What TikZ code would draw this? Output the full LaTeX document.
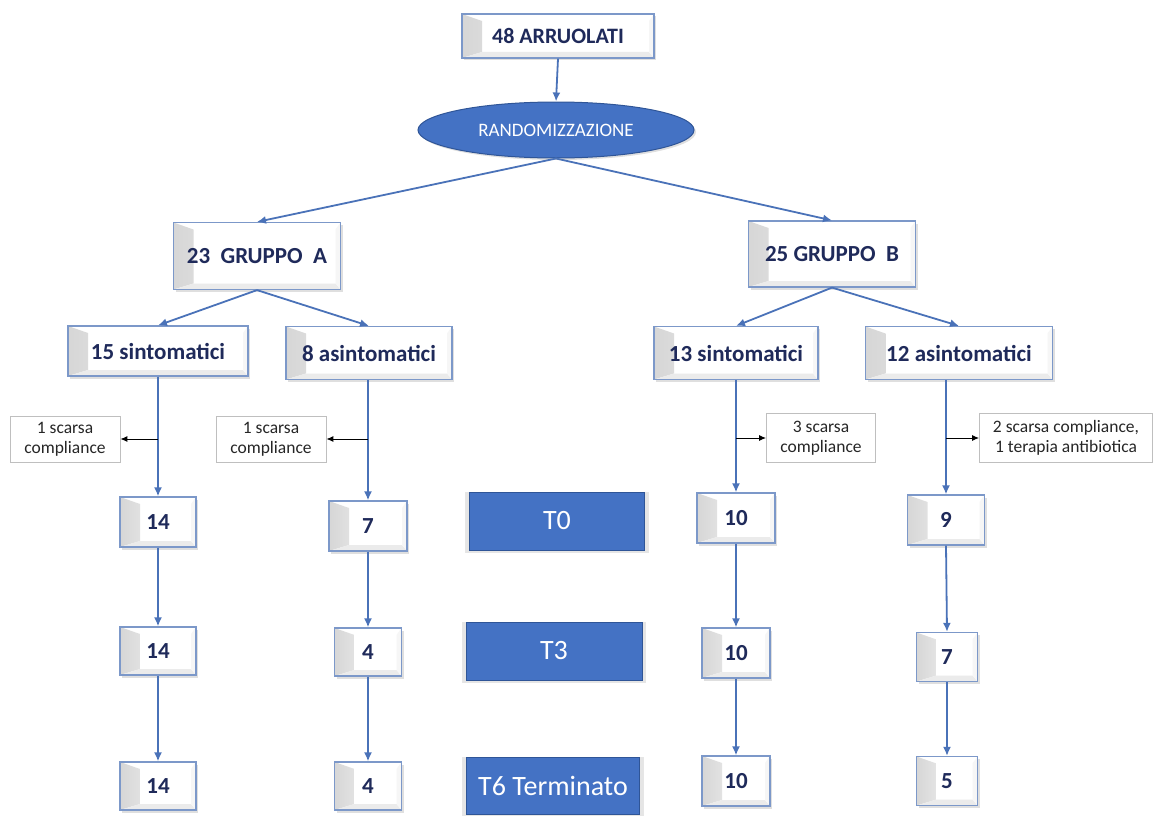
\documentclass[tikz,border=0pt]{standalone}
\usepackage{fontspec}
\setmainfont{Carlito}
\usetikzlibrary{shapes.geometric,arrows.meta,shadows}
\definecolor{navy}{HTML}{1F2A5A}
\definecolor{tblue}{HTML}{4472C4}
\definecolor{tbord}{HTML}{2F5597}
\definecolor{bxbord}{HTML}{7C98C9}
\definecolor{lnblue}{HTML}{4A72B8}
\tikzset{
  bevel/.style={path picture={
    \path[left color=gray!32,right color=white]
      (path picture bounding box.north west)
      -- ([xshift=20pt,yshift=-7pt]path picture bounding box.north west)
      -- ([xshift=20pt,yshift=6pt]path picture bounding box.south west)
      -- (path picture bounding box.south west) -- cycle;
    \fill[gray!16]
      (path picture bounding box.south west)
      -- ([xshift=20pt,yshift=6pt]path picture bounding box.south west)
      -- ([xshift=-5pt,yshift=6pt]path picture bounding box.south east)
      -- (path picture bounding box.south east) -- cycle;
    \fill[gray!7]
      (path picture bounding box.south east)
      -- ([xshift=-5pt,yshift=6pt]path picture bounding box.south east)
      -- ([xshift=-5pt,yshift=-7pt]path picture bounding box.north east)
      -- (path picture bounding box.north east) -- cycle;
  }},
  bx/.style={draw=bxbord,line width=1.2pt,fill=white,bevel,inner sep=0pt,
    text=navy,font=\bfseries\fontsize{23}{26}\selectfont,
    drop shadow={shadow xshift=2pt,shadow yshift=-2.5pt,opacity=0.25}},
  cbox/.style={draw=gray!50,line width=0.8pt,fill=white,inner sep=0pt,
    align=center,text=black!85,font=\fontsize{17.5}{20}\selectfont},
  tbox/.style={draw=tbord,line width=0.8pt,fill=tblue,inner sep=0pt,text=white,
    font=\fontsize{28}{32}\selectfont,
    preaction={draw=white,line width=7pt},
    drop shadow={shadow xshift=0pt,shadow yshift=-1pt,shadow scale=1.05,opacity=0.2}},
  conn/.style={draw=lnblue,line width=1.8pt,-{Latex[length=9pt,width=8pt]}},
  side/.style={draw=black,line width=1pt,-{Latex[length=7pt,width=6pt]}},
}
\begin{document}
\begin{tikzpicture}[x=1pt,y=-1pt]
\useasboundingbox (0,0) rectangle (1156,816);
% top
\node[bx,minimum width=192pt,minimum height=44pt,font=\bfseries\fontsize{22}{26}\selectfont] (arr) at (558,36) {48 ARRUOLATI};
\node[ellipse,draw=tbord,line width=1pt,fill=tblue,minimum width=276pt,minimum height=56pt,inner sep=0pt,text=white,font=\fontsize{19}{22}\selectfont,
  drop shadow={shadow xshift=2pt,shadow yshift=-2pt,opacity=0.25}] (rand) at (556,130) {RANDOMIZZAZIONE};
% groups
\node[bx,minimum width=167pt,minimum height=67pt] (ga) at (257,256) {23\ \ GRUPPO\ \ A};
\node[bx,minimum width=167pt,minimum height=66pt] (gb) at (832,254) {25 GRUPPO\ \ B};
% subgroups
\node[bx,minimum width=180pt,minimum height=50pt] (s15) at (158,351) {15 sintomatici};
\node[bx,minimum width=166pt,minimum height=53pt] (a8) at (369,353) {8 asintomatici};
\node[bx,minimum width=164pt,minimum height=53pt] (s13) at (736,353) {13 sintomatici};
\node[bx,minimum width=187pt,minimum height=53pt] (a12) at (959,353) {12 asintomatici};
% compliance boxes
\node[cbox,minimum width=110pt,minimum height=46pt] (c1) at (65,439) {1 scarsa\\compliance};
\node[cbox,minimum width=110pt,minimum height=46pt] (c2) at (271,439) {1 scarsa\\compliance};
\node[cbox,minimum width=109pt,minimum height=49pt] (c3) at (821,438) {3 scarsa\\compliance};
\node[cbox,minimum width=173pt,minimum height=49pt] (c4) at (1066,438) {2 scarsa compliance,\\1 terapia antibiotica};
% T0 row
\node[bx,minimum width=76pt,minimum height=50pt] (n14a) at (158,522) {14};
\node[bx,minimum width=78pt,minimum height=50pt] (n7a) at (368,526) {7};
\node[tbox,minimum width=175pt,minimum height=58pt] (t0) at (557,521) {T0};
\node[bx,minimum width=78pt,minimum height=50pt] (n10a) at (736,518) {10};
\node[bx,minimum width=77pt,minimum height=50pt] (n9) at (946,520) {9};
% T3 row
\node[bx,minimum width=76pt,minimum height=48pt] (n14b) at (158,651) {14};
\node[bx,minimum width=67pt,minimum height=48pt] (n4a) at (368,652) {4};
\node[tbox,minimum width=176pt,minimum height=58pt] (t3) at (554,651) {T3};
\node[bx,minimum width=68pt,minimum height=50pt] (n10b) at (736,653) {10};
\node[bx,minimum width=61pt,minimum height=49pt] (n7b) at (947,657) {7};
% T6 row
\node[bx,minimum width=76pt,minimum height=48pt] (n14c) at (158,786) {14};
\node[bx,minimum width=67pt,minimum height=48pt] (n4b) at (368,786) {4};
\node[tbox,minimum width=173pt,minimum height=57pt] (t6) at (553,786) {T6 Terminato};
\node[bx,minimum width=68pt,minimum height=50pt] (n10c) at (736,781) {10};
\node[bx,minimum width=61pt,minimum height=49pt] (n5) at (947,781) {5};
% connectors
\draw[conn] (arr.south) -- (rand.north);
\draw[conn] (rand.south) -- (ga.north);
\draw[conn] (rand.south) -- (gb.north);
\draw[conn] (ga.south) -- (s15.north);
\draw[conn] (ga.south) -- (a8.north);
\draw[conn] (gb.south) -- (s13.north);
\draw[conn] (gb.south) -- (a12.north);
\draw[conn] (s15.south) -- (n14a.north);
\draw[conn] (n7a.north |- a8.south) -- (n7a.north);
\draw[conn] (s13.south) -- (n10a.north);
\draw[conn] (n9.north |- a12.south) -- (n9.north);
\draw[conn] (n14a.south) -- (n14b.north);
\draw[conn] (n14b.south) -- (n14c.north);
\draw[conn] (n7a.south) -- (n4a.north);
\draw[conn] (n4a.south) -- (n4b.north);
\draw[conn] (n10a.south) -- (n10b.north);
\draw[conn] (n10b.south) -- (n10c.north);
\draw[conn] (n9.south) -- (n7b.north);
\draw[conn] (n7b.south) -- (n5.north);
% side arrows
\draw[side] (s15.south |- c1.east) -- (c1.east);
\draw[side] (n7a.north |- c2.east) -- (c2.east);
\draw[side] (n10a.north |- c3.west) -- (c3.west);
\draw[side] (n9.north |- c4.west) -- (c4.west);
\end{tikzpicture}
\end{document}
